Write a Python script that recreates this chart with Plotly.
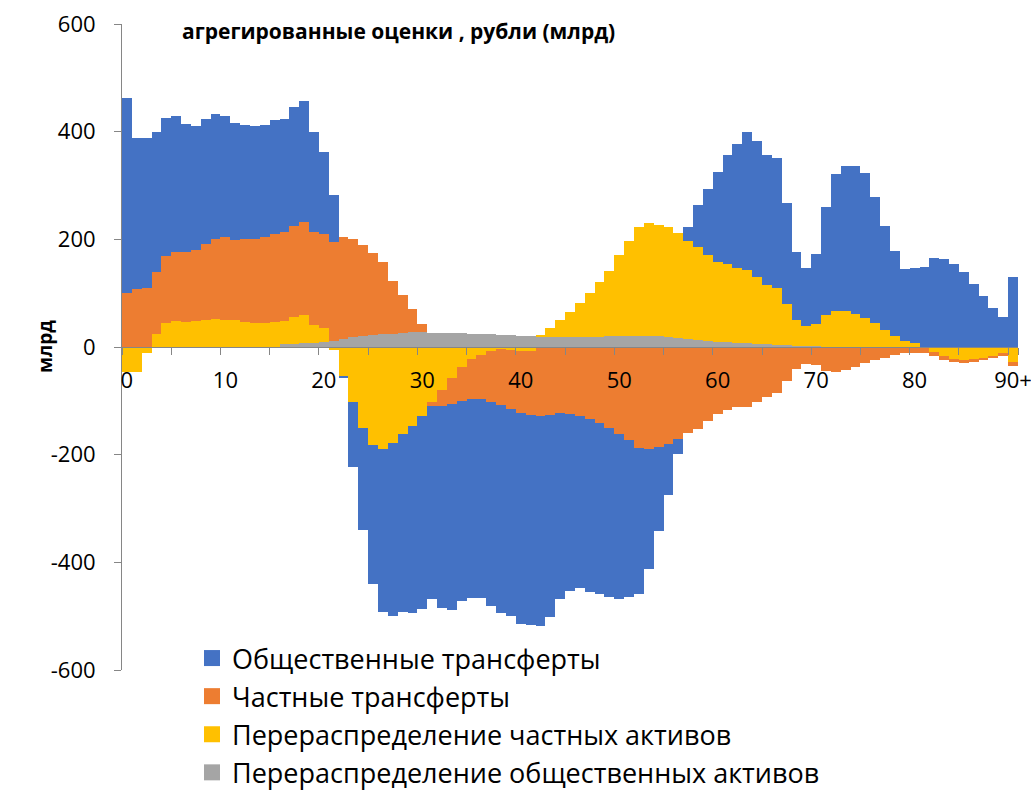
import plotly.graph_objects as go

# ages 0..90+
ages = list(range(91))
age_ticks = [0, 10, 20, 30, 40, 50, 60, 70, 80, 90]
age_tick_text = ["0", "10", "20", "30", "40", "50", "60", "70", "80", "90+"]
value_ticks = [-600, -400, -200, 0, 200, 400, 600]
value_tick_text = ["-600", "-400", "-200", "0", "200", "400", "600"]

public_transfers = [
    361, 281, 280, 260, 256, 252, 238, 231, 233, 233,
    226, 218, 212, 209, 208, 212, 210, 221, 224, 187,
    153, 87, -5, -119, -189, -258, -303, -321, -331, -348,
    -359, -358, -374, -383, -371, -369, -369, -379, -387, -385,
    -392, -390, -390, -375, -346, -329, -319, -321, -318, -314,
    -307, -292, -271, -222, -157, -94, -29, 26, 78, 124,
    167, 203, 232, 257, 253, 241, 243, 188, 126, 107,
    130, 200, 254, 269, 275, 269, 235, 193, 158, 133,
    140, 149, 165, 163, 155, 140, 117, 95, 73, 55,
    130,
]
private_transfers = [
    101, 107, 109, 115, 125, 129, 130, 131, 140, 148,
    153, 148, 154, 156, 159, 163, 166, 169, 174, 172,
    175, 183, 189, 183, 169, 151, 132, 98, 71, 43,
    15, -8, -30, -49, -63, -74, -83, -95, -104, -110,
    -116, -119, -128, -127, -123, -124, -128, -134, -141, -150,
    -162, -172, -187, -190, -185, -180, -170, -160, -153, -137,
    -124, -117, -112, -111, -102, -92, -86, -63, -41, -32,
    -33, -45, -47, -43, -37, -30, -25, -21, -14, -11,
    -11, -11, -7, -8, -6, -5, -5, -4, -4, -4,
    -8,
]
private_assets = [
    -46, -46, -12, 25, 44, 48, 46, 49, 51, 52,
    51, 50, 46, 45, 45, 46, 43, 49, 52, 33,
    26, -6, -53, -103, -150, -182, -190, -179, -162, -146,
    -128, -102, -80, -57, -37, -23, -14, -7, -4, -5,
    -7, -7, 3, 16, 32, 47, 64, 82, 102, 122,
    151, 175, 202, 210, 207, 205, 194, 182, 173, 158,
    148, 145, 138, 136, 124, 111, 105, 77, 49, 38,
    41, 60, 67, 67, 61, 54, 44, 32, 20, 12,
    7, 0, -10, -16, -22, -24, -22, -20, -16, -12,
    -27,
]
public_assets = [
    0, 0, 0, 0, 0, 0, 0, 0, 0, 0,
    0, 0, 0, 0, 0, 0, 5, 6, 7, 8,
    9, 12, 15, 18, 21, 23, 25, 25, 26, 27,
    27, 26, 26, 26, 26, 24, 24, 24, 22, 22,
    21, 21, 19, 19, 18, 18, 18, 19, 19, 20,
    20, 21, 21, 21, 20, 18, 17, 15, 13, 12,
    10, 9, 8, 7, 6, 5, 4, 3, 2, 1,
    1, 0, 0, 0, 0, 0, 0, 0, 0, 0,
    0, 0, 0, 0, 0, 0, 0, 0, 0, 0,
    0,
]

series = [
    ("Перераспределение общественных активов", public_assets, "#A5A5A5"),
    ("Перераспределение частных активов", private_assets, "#FFC000"),
    ("Частные трансферты", private_transfers, "#ED7D31"),
    ("Общественные трансферты", public_transfers, "#4472C4"),
]

FONT = "Open Sans"

fig = go.Figure()
# stacking order from zero outwards: gray, yellow, orange, blue
for name, vals, color in series:
    fig.add_trace(go.Bar(
        x=ages, y=vals, name=name,
        marker=dict(color=color, line=dict(width=0)),
        showlegend=False,
    ))
# legend entries with bigger square swatches
for name, vals, color in series:
    fig.add_trace(go.Scatter(
        x=[None], y=[None], name=name, mode="markers",
        marker=dict(symbol="square", size=16, color=color),
    ))

fig.update_layout(
    width=1031, height=792,
    barmode="relative", bargap=0,
    plot_bgcolor="white", paper_bgcolor="white",
    margin=dict(l=122, r=13, t=24, b=122, autoexpand=False),
    font=dict(family=FONT, color="black"),
    title=dict(
        text="<b>агрегированные оценки , рубли (млрд)</b>",
        font=dict(size=21, family=FONT),
        x=182 / 1031, xanchor="left", xref="container",
        y=1 - 32 / 792, yanchor="middle", yref="container",
    ),
    legend=dict(
        traceorder="reversed",
        font=dict(size=27, family=FONT),
        x=192 / 1031, xref="container", xanchor="left",
        y=1 - 634 / 792, yref="container", yanchor="top",
        bgcolor="rgba(0,0,0,0)",
    ),
    annotations=[dict(
        text="<b>млрд</b>", textangle=-90,
        xref="paper", yref="paper", x=(30 - 122) / 896, y=0.5,
        showarrow=False, font=dict(size=19),
    )],
)

fig.update_xaxes(
    range=[-0.5, 90.5],
    anchor="free", position=0.5,
    showline=True, linecolor="#868686", linewidth=1,
    showgrid=False, zeroline=False,
    tickmode="array", tickvals=age_ticks, ticktext=age_tick_text,
    ticks="", ticklabelstandoff=14, ticklabeloverflow="allow",
    tickfont=dict(size=22),
    minor=dict(
        tickvals=[b - 0.5 for b in range(0, 91, 5)] + [90.5],
        ticks="outside", ticklen=7, tickcolor="#868686",
    ),
)
fig.update_yaxes(
    range=[-600, 600],
    tickmode="array", tickvals=value_ticks, ticktext=value_tick_text,
    showline=True, linecolor="#868686", linewidth=1,
    showgrid=False, zeroline=False,
    ticks="outside", ticklen=7, tickcolor="#868686",
    ticklabelstandoff=14,
    tickfont=dict(size=22),
)

# drop the default page margin so the 1031x792 figure fills the window
fig.write_html("out.html", config={"displayModeBar": False},
               post_script="document.body.style.margin='0';")
